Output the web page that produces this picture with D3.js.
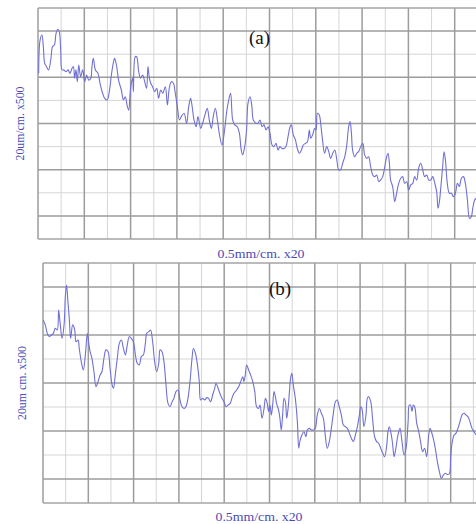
<!DOCTYPE html>
<html>
<head>
<meta charset="utf-8">
<script src="https://cdn.jsdelivr.net/npm/d3@7"></script>
<style>
  html, body { margin: 0; padding: 0; background: #fff; }
  svg { display: block; }
</style>
</head>
<body>
<svg id="chart" width="476" height="524"></svg>
<script>
// Surface profile traces on chart paper. Units: horizontal and vertical grid divisions.
const gridCols = d3.range(0, 20);   // vertical rulings 0..19
const gridRows = d3.range(0, 11);   // horizontal rulings 0..10

// Profile (a): [x division, height division]
const profileA = [
  [0.03,7.17],[0.09,8.61],[0.17,8.83],[0.23,8.33],[0.29,7.60],[0.37,7.46],[0.46,7.32],[0.55,7.75],
  [0.63,8.33],[0.71,8.40],[0.78,8.90],[0.86,9.08],[0.92,8.98],[0.98,8.18],[1.04,7.32],[1.12,7.32],
  [1.21,7.24],[1.30,7.32],[1.38,7.17],[1.47,7.39],[1.53,7.46],[1.58,6.96],[1.64,7.32],[1.70,6.81],
  [1.76,7.53],[1.84,7.03],[1.93,7.32],[2.02,6.81],[2.10,7.10],[2.19,6.88],[2.28,6.96],[2.33,7.46],
  [2.39,7.82],[2.48,7.32],[2.59,7.17],[2.68,6.74],[2.79,6.31],[2.88,6.09],[2.99,6.02],[3.08,6.38],
  [3.17,7.10],[3.25,7.60],[3.31,7.82],[3.40,7.46],[3.48,6.88],[3.60,6.45],[3.69,6.02],[3.77,6.16],
  [3.86,5.73],[3.92,5.58],[3.97,6.16],[4.03,6.74],[4.09,6.96],[4.12,6.38],[4.20,7.89],[4.26,7.89],
  [4.35,7.24],[4.43,6.96],[4.52,7.10],[4.61,6.81],[4.69,6.52],[4.75,7.46],[4.81,6.96],[4.87,6.74],
  [4.95,6.59],[5.04,6.38],[5.13,6.52],[5.21,6.09],[5.30,6.45],[5.39,6.31],[5.50,6.59],[5.59,5.80],
  [5.67,6.52],[5.76,6.81],[5.85,6.74],[5.93,6.31],[6.02,5.73],[6.11,5.15],[6.19,5.30],[6.31,5.44],
  [6.42,5.01],[6.51,5.73],[6.59,6.09],[6.65,5.80],[6.74,5.15],[6.83,4.86],[6.91,5.30],[7.03,4.79],
  [7.11,5.01],[7.23,5.44],[7.31,5.66],[7.40,5.15],[7.49,4.79],[7.57,5.30],[7.66,5.66],[7.75,5.15],
  [7.83,4.57],[7.95,4.07],[8.06,4.72],[8.15,5.51],[8.24,6.02],[8.32,6.31],[8.41,5.15],[8.50,4.94],
  [8.61,4.86],[8.70,4.57],[8.78,3.85],[8.84,3.64],[8.93,4.00],[9.01,4.72],[9.07,5.87],[9.16,6.16],
  [9.24,5.73],[9.30,5.15],[9.42,5.01],[9.50,5.01],[9.59,5.15],[9.68,4.86],[9.76,4.94],[9.85,4.72],
  [9.94,4.86],[10.02,4.57],[10.11,4.07],[10.19,4.00],[10.28,4.14],[10.37,3.85],[10.45,4.00],[10.54,3.92],
  [10.63,3.92],[10.71,4.00],[10.80,4.43],[10.89,4.86],[10.94,4.94],[11.03,4.50],[11.12,4.29],[11.20,3.92],
  [11.29,3.71],[11.38,3.85],[11.46,4.07],[11.55,4.14],[11.64,4.21],[11.72,4.72],[11.78,4.36],[11.86,4.50],
  [11.95,4.79],[12.01,4.72],[12.07,5.44],[12.15,5.37],[12.21,5.01],[12.29,4.29],[12.38,3.71],[12.47,4.00],
  [12.56,3.78],[12.64,3.49],[12.73,3.71],[12.82,3.85],[12.90,3.49],[12.99,2.99],[13.07,2.99],[13.16,3.28],
  [13.25,3.56],[13.33,4.00],[13.42,4.86],[13.48,5.08],[13.54,4.57],[13.59,3.85],[13.68,3.56],[13.77,3.71],
  [13.85,3.78],[13.94,4.00],[14.03,4.14],[14.11,3.64],[14.20,3.49],[14.28,3.56],[14.37,3.13],[14.46,2.77],
  [14.54,2.70],[14.63,2.77],[14.72,2.48],[14.80,2.55],[14.89,2.70],[14.98,3.13],[15.06,3.56],[15.12,3.71],
  [15.18,3.28],[15.23,2.55],[15.32,2.27],[15.41,1.62],[15.49,1.98],[15.58,2.41],[15.67,2.63],[15.75,2.70],
  [15.84,2.41],[15.93,2.48],[16.01,2.12],[16.10,2.34],[16.19,2.41],[16.27,2.70],[16.36,2.55],[16.44,3.06],
  [16.53,3.28],[16.62,2.99],[16.70,2.70],[16.79,2.77],[16.88,2.55],[16.96,2.55],[17.05,2.70],[17.14,2.41],
  [17.22,2.05],[17.28,1.33],[17.34,1.62],[17.39,2.12],[17.48,3.13],[17.54,3.78],[17.60,3.42],[17.68,2.41],
  [17.77,1.98],[17.86,1.98],[17.94,1.83],[18.03,1.98],[18.12,2.41],[18.20,2.27],[18.29,2.63],[18.38,2.70],
  [18.46,2.41],[18.55,1.69],[18.64,0.89],[18.72,0.97],[18.78,1.33],[18.86,1.69],[18.92,1.76],[19.00,1.90]
];

// Profile (b): [x division, height division]
const profileB = [
  [0.01,7.63],[0.10,7.42],[0.19,7.07],[0.28,6.93],[0.37,7.00],[0.46,7.07],[0.54,7.28],[0.63,7.21],
  [0.69,8.04],[0.75,7.56],[0.84,6.86],[0.93,7.42],[0.99,8.67],[1.04,9.08],[1.10,8.39],[1.16,7.69],
  [1.22,6.86],[1.31,7.42],[1.40,7.21],[1.46,6.72],[1.55,6.79],[1.60,6.44],[1.69,5.89],[1.78,5.54],
  [1.87,6.17],[1.96,7.07],[2.02,6.65],[2.08,6.31],[2.16,6.03],[2.25,5.47],[2.34,4.85],[2.43,5.06],
  [2.52,5.33],[2.60,5.47],[2.69,6.03],[2.78,6.38],[2.87,6.31],[2.96,5.61],[3.05,4.92],[3.11,4.78],
  [3.19,5.33],[3.28,6.03],[3.37,6.65],[3.46,6.79],[3.55,6.44],[3.64,6.17],[3.72,6.58],[3.81,6.93],
  [3.90,6.86],[3.99,6.72],[4.08,6.17],[4.16,5.82],[4.25,5.75],[4.34,6.10],[4.43,6.17],[4.52,6.65],
  [4.58,7.07],[4.67,7.14],[4.75,7.21],[4.84,6.72],[4.93,5.89],[5.02,5.47],[5.11,5.82],[5.17,6.38],
  [5.25,6.31],[5.34,5.89],[5.43,4.92],[5.52,4.15],[5.61,4.01],[5.70,4.22],[5.78,4.36],[5.87,4.64],
  [5.96,4.71],[6.05,4.29],[6.14,4.01],[6.23,3.94],[6.31,4.01],[6.40,4.36],[6.49,5.06],[6.58,6.03],
  [6.64,6.44],[6.73,6.24],[6.81,5.82],[6.90,5.06],[6.96,4.29],[7.05,4.36],[7.14,4.29],[7.23,4.39],
  [7.31,4.36],[7.40,4.22],[7.49,4.50],[7.58,4.78],[7.64,4.99],[7.73,4.78],[7.81,4.57],[7.90,4.36],
  [7.99,4.22],[8.08,4.01],[8.17,4.08],[8.26,4.15],[8.34,4.36],[8.43,4.57],[8.55,4.71],[8.64,4.85],
  [8.73,5.06],[8.82,5.26],[8.87,5.06],[8.93,5.33],[8.99,5.75],[9.08,5.54],[9.17,5.33],[9.26,5.06],
  [9.35,4.64],[9.43,4.01],[9.51,3.94],[9.58,4.08],[9.67,3.53],[9.76,3.94],[9.82,4.36],[9.90,4.15],
  [9.96,3.81],[10.02,4.08],[10.08,3.67],[10.14,4.08],[10.20,4.64],[10.26,4.43],[10.31,4.15],[10.40,3.88],
  [10.46,3.53],[10.52,3.04],[10.58,3.67],[10.64,4.36],[10.70,4.22],[10.76,3.53],[10.82,3.94],[10.88,4.64],
  [10.93,5.19],[10.99,5.40],[11.05,4.92],[11.14,4.36],[11.23,3.39],[11.29,2.28],[11.34,2.56],[11.43,2.83],
  [11.52,2.97],[11.61,2.76],[11.67,3.04],[11.76,3.11],[11.85,3.04],[11.94,3.04],[12.02,3.11],[12.11,3.67],
  [12.20,3.94],[12.29,3.74],[12.38,3.53],[12.46,2.83],[12.55,2.28],[12.64,2.56],[12.73,3.11],[12.81,3.67],
  [12.91,4.22],[12.99,4.29],[13.08,4.01],[13.17,3.67],[13.26,3.25],[13.35,3.18],[13.44,3.11],[13.53,2.90],
  [13.62,2.69],[13.70,2.56],[13.79,2.83],[13.88,3.18],[13.97,3.67],[14.03,4.01],[14.08,3.94],[14.17,3.18],
  [14.26,3.67],[14.32,4.36],[14.38,4.43],[14.47,4.22],[14.55,3.53],[14.64,2.76],[14.73,2.56],[14.82,2.49],
  [14.91,2.28],[15.00,2.07],[15.08,1.93],[15.17,2.35],[15.23,2.97],[15.29,3.18],[15.38,2.83],[15.44,2.42],
  [15.50,1.93],[15.58,2.28],[15.67,2.83],[15.76,3.11],[15.85,2.56],[15.94,2.00],[16.03,2.28],[16.12,3.39],
  [16.17,4.08],[16.23,4.08],[16.29,3.81],[16.35,4.08],[16.41,4.01],[16.50,3.32],[16.59,2.97],[16.67,2.56],
  [16.76,2.14],[16.85,2.28],[16.94,1.93],[17.03,2.83],[17.09,3.11],[17.15,2.97],[17.23,2.69],[17.32,2.28],
  [17.41,1.72],[17.50,1.31],[17.59,1.03],[17.68,1.17],[17.76,1.24],[17.85,1.19],[17.94,1.22],[18.00,1.93],
  [18.06,2.49],[18.15,2.83],[18.23,2.90],[18.32,3.11],[18.41,3.39],[18.50,3.67],[18.59,3.74],[18.67,3.67],
  [18.76,3.60],[18.85,3.39],[18.94,3.11],[19.03,2.97],[19.12,2.83]
];

const panels = [
  { data: profileA, tag: "(a)", yLabel: "20um/cm. x500", xLabel: "0.5mm/cm. x20",
    left: 38, top: 8, colW: 23.15, rowH: 23.1,
    tagX: 249, tagY: 44, yLabX: 20, xLabY: 258, xLabX: 261 },
  { data: profileB, tag: "(b)", yLabel: "20um cm. x500", xLabel: "0.5mm/cm. x20",
    left: 43, top: 263, colW: 22.65, rowH: 24,
    tagX: 269, tagY: 295, yLabX: 22, xLabY: 521, xLabX: 259 }
];

const svg = d3.select("#chart");
svg.append("rect").attr("width", 476).attr("height", 524).attr("fill", "#fff");

const labelBlue = "#4a4ab4";
const traceColor = "#7070d4";
const serif = "'Liberation Serif', 'Times New Roman', serif";

panels.forEach(p => {
  const x = d3.scaleLinear().domain([0, 19]).range([p.left, p.left + 19 * p.colW]);
  const y = d3.scaleLinear().domain([0, 10]).range([p.top + 10 * p.rowH, p.top]);
  const g = svg.append("g");
  const xMax = 476;

  // heavy rulings on every second division, fine rulings between
  const heavy = { s: "#9c9c9c", w: 1.5 }, fine = { s: "#d6d6d6", w: 1 };
  const colStyle = c => (c % 2 === 0) ? heavy : fine;
  const rowStyle = r => (r === 0 || r === 10) ? { s: "#a4a4a4", w: 1.4 }
    : (r % 2 === 1) ? heavy : fine;

  const byWeight = (arr, f) => arr.slice().sort((a, b) => f(a).w - f(b).w);

  g.selectAll(".row").data(byWeight(gridRows, rowStyle).filter(r => rowStyle(r) === fine)).join("line")
    .attr("x1", x(0)).attr("x2", xMax)
    .attr("y1", d => y(d)).attr("y2", d => y(d))
    .attr("stroke", d => rowStyle(d).s).attr("stroke-width", d => rowStyle(d).w);

  g.selectAll(".col").data(byWeight(gridCols, colStyle)).join("line")
    .attr("x1", d => x(d)).attr("x2", d => x(d))
    .attr("y1", y(10)).attr("y2", y(0))
    .attr("stroke", d => colStyle(d).s).attr("stroke-width", d => colStyle(d).w);

  g.selectAll(".rowHeavy").data(gridRows.filter(r => rowStyle(r) !== fine)).join("line")
    .attr("x1", x(0)).attr("x2", xMax)
    .attr("y1", d => y(d)).attr("y2", d => y(d))
    .attr("stroke", d => rowStyle(d).s).attr("stroke-width", d => rowStyle(d).w);

  const line = d3.line()
    .x(d => x(d[0])).y(d => y(d[1]))
    .curve(d3.curveCatmullRom.alpha(0.5));

  g.append("path").datum(p.data)
    .attr("d", line)
    .attr("fill", "none")
    .attr("stroke", traceColor)
    .attr("stroke-width", 1.1)
    .attr("stroke-linejoin", "round");

  g.append("text")
    .attr("x", p.tagX).attr("y", p.tagY)
    .attr("font-family", serif)
    .attr("font-size", 19).attr("fill", "#111")
    .text(p.tag);

  const yMid = (y(0) + y(10)) / 2;
  g.append("text")
    .attr("transform", `translate(${p.yLabX + 4},${yMid}) rotate(-90)`)
    .attr("text-anchor", "middle")
    .attr("font-family", serif)
    .attr("font-size", 11.5).attr("fill", labelBlue)
    .attr("textLength", 74).attr("lengthAdjust", "spacingAndGlyphs")
    .text(p.yLabel);

  g.append("text")
    .attr("x", p.xLabX).attr("y", p.xLabY)
    .attr("text-anchor", "middle")
    .attr("font-family", serif)
    .attr("font-size", 11.5).attr("fill", labelBlue)
    .attr("textLength", 87).attr("lengthAdjust", "spacingAndGlyphs")
    .text(p.xLabel);
});
</script>
</body>
</html>
